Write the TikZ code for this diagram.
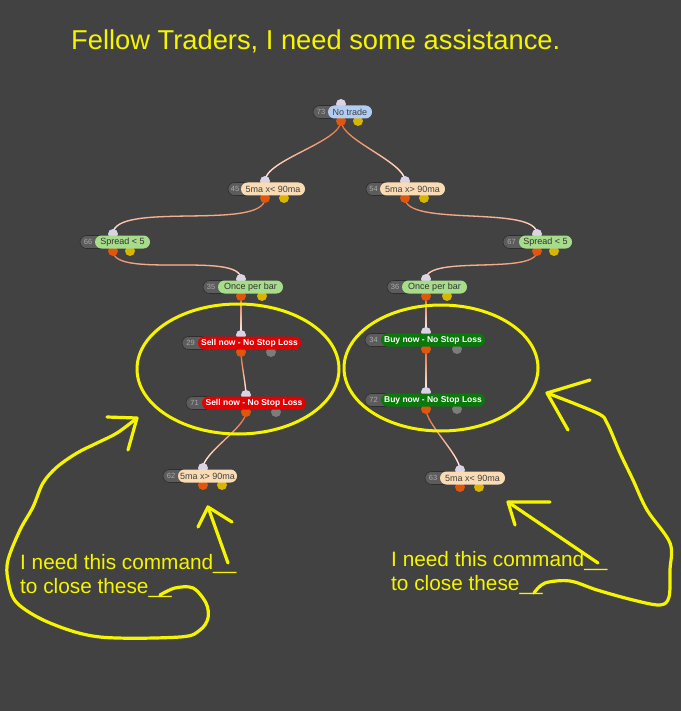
\documentclass[tikz,border=0pt]{standalone}
\usepackage{fontspec}
\setmainfont{Liberation Sans}
\usetikzlibrary{fadings}
\definecolor{bgcol}{HTML}{424242}
\definecolor{annyel}{HTML}{F5F500}
\definecolor{numfill}{HTML}{5C5C5C}
\definecolor{numtext}{HTML}{AAAAAA}
\definecolor{pillrim}{HTML}{2E2E2E}
\definecolor{cblue}{HTML}{B2CDF4}
\definecolor{cpeach}{HTML}{FADCB4}
\definecolor{clgreen}{HTML}{A6DC8A}
\definecolor{cred}{HTML}{E20000}
\definecolor{cdgreen}{HTML}{0B780B}
\definecolor{indotc}{HTML}{DAD3E6}
\definecolor{odotc}{HTML}{E0560C}
\definecolor{ydotc}{HTML}{D9B500}
\definecolor{gdotc}{HTML}{7C7C7C}
\definecolor{wirec}{HTML}{E2652E}
\pgfdeclarelayer{bg}
\pgfdeclarelayer{wires}
\pgfsetlayers{bg,wires,main}
\tikzset{
  indot/.style={circle, fill=indotc, inner sep=0pt, minimum size=10pt},
  outdot/.style={circle, fill=odotc, inner sep=0pt, minimum size=10pt},
  ydot/.style={circle, fill=ydotc, inner sep=0pt, minimum size=10pt},
  gdot/.style={circle, fill=gdotc, inner sep=0pt, minimum size=10pt},
  numpill/.style={draw=pillrim, line width=0.6pt, fill=numfill, rounded corners=6.5pt, minimum height=13pt, inner sep=0pt},
  numtxt/.style={text=numtext, font=\fontsize{7.5}{8}\selectfont, inner sep=0pt},
  flab/.style={rounded corners=6.5pt, minimum height=13pt, inner sep=0pt, font=\fontsize{9}{10}\selectfont},
  fblue/.style={fill=cblue, text=black!75},
  fpeach/.style={fill=cpeach, text=black!75},
  flgreen/.style={fill=clgreen, text=black!80},
  fred/.style={fill=cred, text=white, font=\fontsize{8.5}{9}\selectfont\bfseries},
  fdgreen/.style={fill=cdgreen, text=white, font=\fontsize{8.5}{9}\selectfont\bfseries},
  wireA/.style={draw=wirec, line width=1.3pt},
  wireB/.style={draw=white, line width=1.3pt, path fading=north},
  ann/.style={draw=annyel, line width=3.2pt, line cap=round, line join=round},
  anntext/.style={text=annyel, inner sep=0pt, anchor=base west}
}
\def\dottwostyle{ydot}
\def\dottwooff{19}
% #1 name, #2 Y, #3 numL, #4 labL, #5 labR, #6 num, #7 text, #8 fill style, #9 dot x
\newcommand\flownode[9]{%
  \node[indot] (#1in) at (#9,-#2+8) {};
  \node[outdot] (#1out) at (#9,-#2-9) {};
  \node[\dottwostyle] (#1alt) at (#9+\dottwooff,-#2-9) {};
  \node[numpill, minimum width={#4-#3+10}] (#1pill) at ({(#3+#4+10)/2},-#2) {};
  \node[numtxt] (#1num) at ({(#3+#4)/2+0.5},-#2) {#6};
  \node[flab, #8, minimum width={#5-#4}] (#1) at ({(#4+#5)/2},-#2) {#7};
}
\newcommand\wire[2]{%
  \draw[wireA] (#1.center) to[out=-90,in=90,looseness=0.55] (#2.center);
  \draw[wireB] (#1.center) to[out=-90,in=90,looseness=0.55] (#2.center);
}
\begin{document}
\begin{tikzpicture}[x=1pt,y=1pt]
\useasboundingbox (0,0) rectangle (681,-711);
\begin{pgfonlayer}{bg}
  \fill[bgcol] (0,0) rectangle (681,-711);
\end{pgfonlayer}

% title
\node[anntext, font=\fontsize{27.3}{30}\selectfont] (title) at (71,-50) {Fellow Traders, I need some assistance.};

% nodes with yellow second dot
\def\dottwostyle{ydot}\def\dottwooff{17}
\flownode{n73}{112}{313}{328}{372}{73}{No trade}{fblue}{341}
\def\dottwooff{19}
\flownode{n45}{189}{228}{241}{305}{45}{5ma x< 90ma}{fpeach}{265}
\flownode{n54}{189}{366}{380}{445}{54}{5ma x> 90ma}{fpeach}{405}
\def\dottwooff{17}
\flownode{n66}{242}{80}{95}{150}{66}{Spread < 5}{flgreen}{113}
\flownode{n67}{242}{503}{519}{572}{67}{Spread < 5}{flgreen}{537}
\def\dottwooff{21}
\flownode{n35}{287}{203}{218}{283}{35}{Once per bar}{flgreen}{241}
\flownode{n36}{287}{387}{402}{467}{36}{Once per bar}{flgreen}{426}
\def\dottwooff{19}
\flownode{n62}{476}{163}{178}{237}{62}{5ma x> 90ma}{fpeach}{203}
\flownode{n63}{478}{425}{440}{505}{63}{5ma x< 90ma}{fpeach}{460}
% action nodes with gray second dot
\def\dottwostyle{gdot}\def\dottwooff{30}
\flownode{n29}{343}{182}{198}{301}{29}{Sell now - No Stop Loss}{fred}{241}
\flownode{n71}{403}{186}{202}{306}{71}{Sell now - No Stop Loss}{fred}{246}
\def\dottwooff{31}
\flownode{n34}{340}{365}{381}{485}{34}{Buy now - No Stop Loss}{fdgreen}{426}
\flownode{n72}{400}{365}{381}{485}{72}{Buy now - No Stop Loss}{fdgreen}{426}

% connectors
\begin{pgfonlayer}{wires}
\wire{n73out}{n45in}
\wire{n73out}{n54in}
\wire{n45out}{n66in}
\wire{n54out}{n67in}
\wire{n66out}{n35in}
\wire{n67out}{n36in}
\wire{n35out}{n29in}
\wire{n36out}{n34in}
\wire{n29out}{n71in}
\wire{n34out}{n72in}
\wire{n71out}{n62in}
\wire{n72out}{n63in}
\end{pgfonlayer}

% yellow ellipses
\draw[ann, line width=3pt] (238,-369) ellipse [x radius=101, y radius=65];
\draw[ann, line width=3pt] (441,-368) ellipse [x radius=97, y radius=63];

% annotation texts
\node[anntext, font=\fontsize{20.8}{24}\selectfont] (lt1) at (20,-569) {I need this command\_\_};
\node[anntext, font=\fontsize{20.8}{24}\selectfont] (lt2) at (20,-593) {to close these\_\_};
\node[anntext, font=\fontsize{20.8}{24}\selectfont] (rt1) at (391,-566) {I need this command\_\_};
\node[anntext, font=\fontsize{20.8}{24}\selectfont] (rt2) at (391,-590) {to close these\_\_};

% left hand-drawn arrows
\draw[ann] plot[smooth, tension=0.55] coordinates {(160,-595) (175,-588) (193,-588) (206,-603) (208,-618) (200,-630) (180,-637) (100,-637) (50,-623) (17,-603) (8,-580) (8,-560) (20,-530) (33,-507) (43,-483) (57,-467) (77,-453) (97,-443) (117,-433) (137,-418)};
\draw[ann] (107,-417) -- (137,-418) -- (128,-450);
\draw[ann] (228,-563) -- (208,-507);
\draw[ann] (198,-527) -- (208,-507) -- (232,-522);

% right hand-drawn arrows
\draw[ann] plot[smooth, tension=0.55] coordinates {(534,-593) (545,-583) (570,-581) (597,-590) (633,-600) (660,-605) (669,-597) (670,-570) (670,-543) (647,-510) (633,-480) (620,-453) (607,-423) (597,-413) (547,-393)};
\draw[ann] (590,-380) -- (547,-393) -- (568,-430);
\draw[ann] (598,-563) -- (508,-502);
\draw[ann] (550,-502) -- (508,-502) -- (515,-525);
\end{tikzpicture}
\end{document}
